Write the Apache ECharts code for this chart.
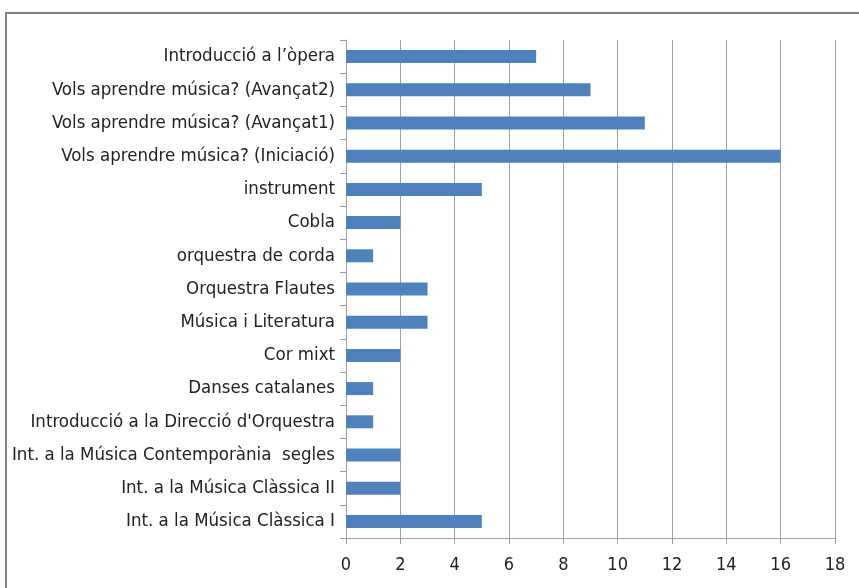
<!DOCTYPE html>
<html><head><meta charset="utf-8">
<script src="https://cdn.jsdelivr.net/npm/echarts@6/dist/echarts.min.js"></script>
<style>html,body{margin:0;padding:0;background:#fff}#c{width:859px;height:588px}</style>
</head><body><div id="c"></div>
<script>
const categories = [
  "Introducció a l’òpera",
  "Vols aprendre música? (Avançat2)",
  "Vols aprendre música? (Avançat1)",
  "Vols aprendre música? (Iniciació)",
  "instrument",
  "Cobla",
  "orquestra de corda",
  "Orquestra Flautes",
  "Música i Literatura",
  "Cor mixt",
  "Danses catalanes",
  "Introducció a la Direcció d'Orquestra",
  "Int. a la Música Contemporània  segles",
  "Int. a la Música Clàssica II",
  "Int. a la Música Clàssica I"
];
const values = [7, 9, 11, 16, 5, 2, 1, 3, 3, 2, 1, 1, 2, 2, 5];
const xTicks = [0, 2, 4, 6, 8, 10, 12, 14, 16, 18];

const font = "'Liberation Sans Narrow','DejaVu Sans Condensed','Open Sans',sans-serif";
const chart = echarts.init(document.getElementById('c'), null, {renderer: 'canvas'});
chart.setOption({
  animation: false,
  backgroundColor: '#fff',
  grid: {left: 346, right: 24, top: 40, bottom: 50, containLabel: false},
  graphic: [{
    type: 'polyline', silent: true,
    shape: {points: [[6, 600], [6, 13], [870, 13]]},
    style: {stroke: '#808080', lineWidth: 2, fill: null}
  }],
  xAxis: {
    type: 'value', min: xTicks[0], max: xTicks[xTicks.length - 1], interval: 2,
    axisLine: {show: true, lineStyle: {color: '#a0a0a0', width: 1}},
    axisTick: {show: true, length: 6, lineStyle: {color: '#a0a0a0'}},
    axisLabel: {color: '#222', fontFamily: font, fontSize: 18, margin: 18},
    splitLine: {show: true, lineStyle: {color: '#a0a0a0', width: 1}}
  },
  yAxis: {
    type: 'category', data: categories, inverse: true,
    axisLine: {show: true, lineStyle: {color: '#a0a0a0', width: 1}},
    axisTick: {show: true, length: 6, lineStyle: {color: '#a0a0a0'}},
    axisLabel: {color: '#222', fontFamily: font, fontSize: 18.5, margin: 11},
    splitLine: {show: false}
  },
  series: [{
    type: 'bar', data: values, barWidth: 13,
    itemStyle: {color: '#4F81BD'}
  }]
});
</script></body></html>
